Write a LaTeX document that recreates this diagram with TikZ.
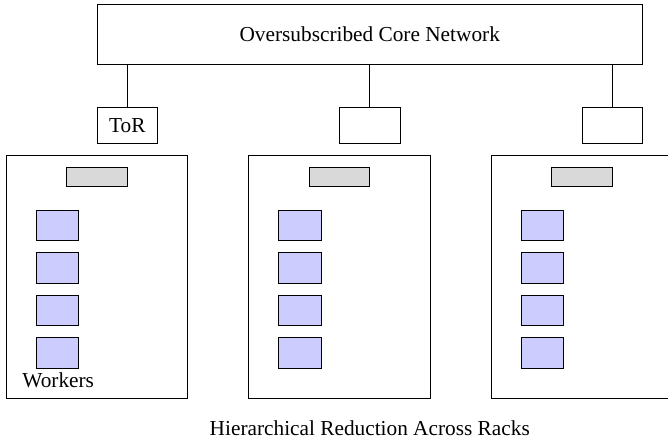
\documentclass[tikz,border=0pt]{standalone}
\usepackage{fontspec}
\setmainfont{Liberation Serif}

\begin{document}
\begin{tikzpicture}[
		rackbox/.style={draw, minimum width=3cm, minimum height=4cm, inner sep=0pt},
		torbox/.style={draw, minimum width=1cm, minimum height=0.6cm, inner sep=0pt},
		aggbox/.style={draw, fill=gray!30, minimum width=1cm, minimum height=0.3cm, inner sep=0pt},
		workerbox/.style={draw, fill=blue!20, minimum width=0.7cm, minimum height=0.5cm, inner sep=0pt}]
		\useasboundingbox (-0.1,-0.74) rectangle (10.92,6.57);
		\node (core) at (6,6) [draw, minimum width=9cm, minimum height=1cm] {Oversubscribed Core Network};
		\node (tor1) at (2,4.5) [torbox] {ToR};
		\node (tor2) at (6,4.5) [torbox] {};
		\node (tor3) at (10,4.5) [torbox] {};
		\draw (tor1.north |- core.south) -- (tor1.north);
		\draw (tor2.north |- core.south) -- (tor2.north);
		\draw (tor3.north |- core.south) -- (tor3.north);
		\foreach \i/\x in {1/0,2/4,3/8} {
			\node (rack\i) at (\x+1.5,2) [rackbox] {};
			\node (agg\i) at (\x+1.5,3.65) [aggbox] {};
			\foreach \j/\y in {1/2.85,2/2.15,3/1.45,4/0.75}
				\node (w\i\j) at (\x+0.85,\y) [workerbox] {};
		}
		\node (workers) at (0.86,0.3) {Workers};
		\node (caption) at (6,-0.5) {Hierarchical Reduction Across Racks};
	\end{tikzpicture}
\end{document}
